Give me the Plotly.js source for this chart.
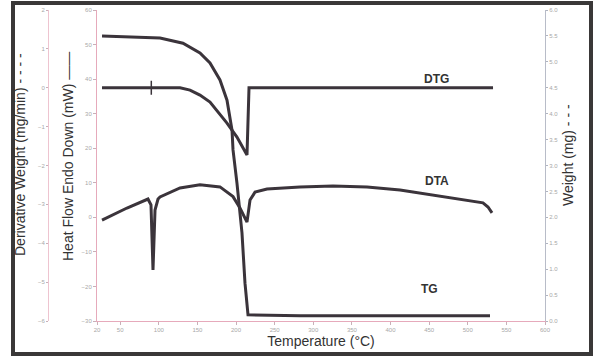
<!DOCTYPE html>
<html>
<head>
<meta charset="utf-8">
<script src="https://cdn.plot.ly/plotly-3.0.1.min.js"></script>
<style>html,body{margin:0;padding:0;background:#fff;}#chart{width:594px;height:357px;}</style>
</head>
<body>
<div id="chart"></div>
<script>
// Temperature ticks (°C)
const tempTicks = [20, 50, 100, 150, 200, 250, 300, 350, 400, 450, 500, 550, 600];

// TG: Weight (mg) vs temperature
const tgTemp   = [26.5, 62.7, 101.6, 131.3, 153.3, 166.3, 179.2, 188.3, 194.8, 196.1, 198.7, 201.2, 207.7, 211.6, 215.5, 282.8, 528.8];
const tgWeight = [5.50, 5.48, 5.46, 5.36, 5.17, 4.98, 4.65, 4.26, 3.68, 3.30, 3.01, 2.66, 1.70, 0.73, 0.12, 0.10, 0.10];

// DTG: Derivative weight (mg/min) vs temperature
const dtgTemp  = [26.5, 127.5, 140.4, 153.3, 166.3, 176.6, 188.3, 201.2, 214.2, 216.8, 532.7];
const dtgValue = [0.0, 0.0, -0.06, -0.19, -0.37, -0.62, -0.91, -1.27, -1.73, 0.0, 0.0];
const dtgMarkTemp = [90.3];
const dtgMarkValue = [0.0];

// DTA: Heat flow (mW) vs temperature
const dtaTemp = [26.5, 58.8, 86.0, 89.9, 92.5, 95.1, 99.0, 101.6, 127.5, 153.3, 179.2, 196.1, 205.1, 214.2, 218.1, 224.6, 240.1, 282.8, 325.5, 369.6, 412.3, 455.0, 499.0, 519.7, 526.2, 531.4];
const dtaHeat = [-0.8, 2.7, 5.3, 3.6, -15.2, 2.1, 5.3, 5.9, 8.5, 9.4, 8.8, 6.0, 2.7, -1.4, 5.0, 7.3, 8.2, 8.8, 9.1, 8.8, 7.9, 6.5, 5.0, 4.2, 3.0, 1.3];

// Axis ticks
const heatTicks = [-30, -20, -10, 0, 10, 20, 30, 40, 50, 60];
const derivTicks = [-6, -5, -4, -3, -2, -1, 0, 1, 2];
const weightTicks = [0, 0.5, 1, 1.5, 2, 2.5, 3, 3.5, 4, 4.5, 5, 5.5, 6];

// Curve labels
const curveNames = ['DTG', 'DTA', 'TG'];

const lineColor = '#3b343b';
const tickFont = {family: 'Liberation Sans, Arial, sans-serif', size: 6, color: '#a8a8a8'};

const traces = [
  {x: dtaTemp, y: dtaHeat, type: 'scatter', mode: 'lines', yaxis: 'y', name: 'DTA',
   line: {color: lineColor, width: 3}},
  {x: dtgTemp, y: dtgValue, type: 'scatter', mode: 'lines', yaxis: 'y2', name: 'DTG',
   line: {color: lineColor, width: 3}},
  {x: dtgMarkTemp, y: dtgMarkValue, type: 'scatter', mode: 'markers', yaxis: 'y2', name: 'mark',
   marker: {symbol: 'line-ns-open', size: 10, color: lineColor, line: {color: lineColor, width: 1.5}}},
  {x: tgTemp, y: tgWeight, type: 'scatter', mode: 'lines', yaxis: 'y3', name: 'TG',
   line: {color: lineColor, width: 3}}
];

const L = 40, R = 49, T = 10, B = 36;
const W = 594, H = 357;
const pw = W - L - R, ph = H - T - B;
const px = v => (v - L) / pw;
const py = v => (H - B - v) / ph;

const titleFont = {family: 'Liberation Sans, Arial, sans-serif', size: 14, color: '#333'};
const labelFont = {family: 'Liberation Sans, Arial, sans-serif', size: 12, color: '#333', weight: 'bold'};

const layout = {
  width: W, height: H,
  margin: {l: L, r: R, t: T, b: B},
  paper_bgcolor: '#fff', plot_bgcolor: '#fff',
  showlegend: false,
  xaxis: {
    domain: [px(97), 1], range: [20, 600], tickvals: tempTicks, ticktext: tempTicks.map(String),
    showgrid: false, zeroline: false, showline: true, linecolor: '#e6aabb', linewidth: 1,
    ticks: 'outside', ticklen: 3, tickcolor: '#c8b0b8', tickfont: tickFont,
    title: {text: 'Temperature (°C)', font: titleFont, standoff: 3},
    anchor: 'y', automargin: false
  },
  yaxis: {
    range: [-30, 60], tickvals: heatTicks, showgrid: false, zeroline: false,
    showline: true, linecolor: '#e6aabb', linewidth: 1, ticks: 'outside', ticklen: 3,
    tickcolor: '#c8b0b8', tickfont: tickFont, anchor: 'x', side: 'left', automargin: false
  },
  yaxis2: {
    range: [-6, 2], tickvals: derivTicks, showgrid: false, zeroline: false,
    showline: true, linecolor: '#eec4d0', linewidth: 1, ticks: 'outside', ticklen: 2,
    tickcolor: '#c8b0b8', tickfont: tickFont, overlaying: 'y', anchor: 'free',
    position: px(48), side: 'left', automargin: false
  },
  yaxis3: {
    range: [0, 6], tickvals: weightTicks, tickformat: '.1f', showgrid: false, zeroline: false,
    showline: true, linecolor: '#b8bcc8', linewidth: 1, ticks: 'outside', ticklen: 2,
    tickcolor: '#b0b4c0', tickfont: tickFont, overlaying: 'y', anchor: 'x', side: 'right',
    automargin: false
  },
  annotations: [
    {text: 'Derivative Weight (mg/min) - - - -', xref: 'paper', yref: 'paper', x: px(20), y: py(155),
     textangle: -90, showarrow: false, font: titleFont, xanchor: 'center', yanchor: 'middle'},
    {text: 'Heat Flow Endo Down (mW) ——', xref: 'paper', yref: 'paper', x: px(68), y: py(157),
     textangle: -90, showarrow: false, font: titleFont, xanchor: 'center', yanchor: 'middle'},
    {text: 'Weight (mg) - - -', xref: 'paper', yref: 'paper', x: px(568), y: py(155),
     textangle: -90, showarrow: false, font: titleFont, xanchor: 'center', yanchor: 'middle'},
    {text: curveNames[0], xref: 'paper', yref: 'paper', x: px(451), y: py(70), showarrow: false, font: labelFont},
    {text: curveNames[1], xref: 'paper', yref: 'paper', x: px(451), y: py(181), showarrow: false, font: labelFont},
    {text: curveNames[2], xref: 'paper', yref: 'paper', x: px(440), y: py(298), showarrow: false, font: labelFont}
  ],
  shapes: [
    {type: 'rect', xref: 'paper', yref: 'paper', x0: px(13), x1: px(591), y0: py(354), y1: py(3),
     line: {color: '#3a3838', width: 4}, fillcolor: 'rgba(0,0,0,0)'}
  ]
};

Plotly.newPlot('chart', traces, layout, {staticPlot: true, displayModeBar: false});
</script>
</body>
</html>
